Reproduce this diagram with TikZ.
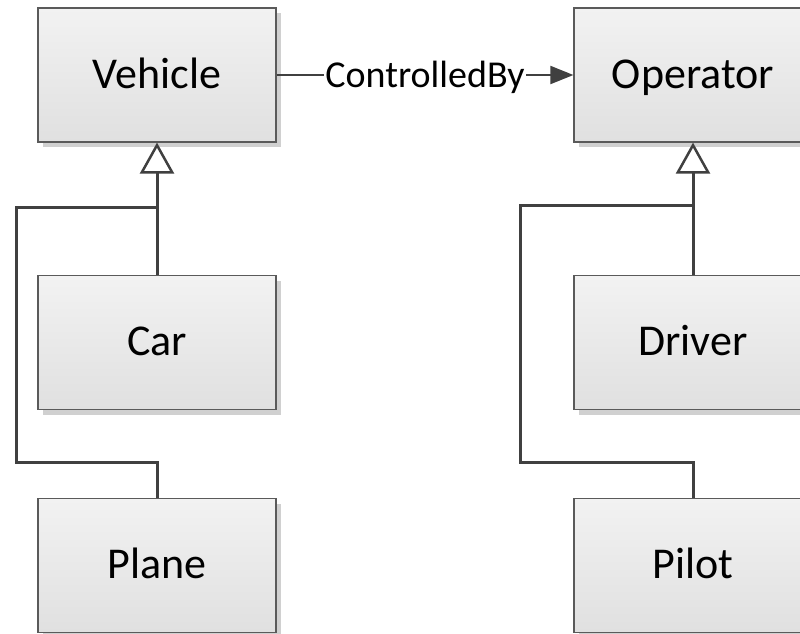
\documentclass[tikz,border=0pt]{standalone}
\usepackage{fontspec}
\setmainfont{Carlito}
\usetikzlibrary{arrows.meta,shadows}
\definecolor{edgegray}{HTML}{404040}
\definecolor{boxborder}{HTML}{5A5A5A}
\definecolor{boxtop}{HTML}{F2F2F2}
\definecolor{boxbottom}{HTML}{E0E0E0}
\definecolor{shadowgray}{HTML}{D0D0D0}
\tikzset{
  classbox/.style={rectangle, draw=boxborder, line width=1.2pt,
    top color=boxtop, bottom color=boxbottom,
    minimum width=238pt, minimum height=134pt, inner sep=0pt,
    text height=32pt, text depth=6pt,
    font=\fontsize{44}{52}\selectfont,
    drop shadow={shadow xshift=5pt, shadow yshift=-5pt, fill=shadowgray, opacity=1}},
  inherit/.style={draw=edgegray, line width=3pt, line join=miter},
  genarrow/.style={inherit, -{Triangle[open, length=31pt, width=34pt, line width=2.5pt]}},
  assoc/.style={draw=edgegray, line width=2pt, -{Triangle[length=23pt, width=18pt]}},
  assoclabel/.style={fill=white, inner sep=1pt, text height=30pt, text depth=6pt,
    font=\fontsize{38}{46}\selectfont}
}
\begin{document}
\begin{tikzpicture}[x=1pt, y=-1pt]
  \useasboundingbox (0,0) rectangle (800,633);
  \fill[white] (0,0) rectangle (800,633);

  % vehicle hierarchy
  \node[classbox] (vehicle) at (157,75) {Vehicle};
  \node[classbox] (car) at (157,342.5) {Car};
  \node[classbox] (plane) at (157,565.5) {Plane};

  % operator hierarchy
  \node[classbox] (operator) at (693,75) {Operator};
  \node[classbox] (driver) at (693,342.5) {Driver};
  \node[classbox] (pilot) at (693,565.5) {Pilot};

  % routing points of the generalization lines
  \coordinate (vjoin) at (157,207);
  \coordinate (vbend) at (16,462);
  \coordinate (ojoin) at (693,205);
  \coordinate (obend) at (520,462);

  % generalizations
  \draw[inherit] (plane.north) |- (vbend) |- (vjoin);
  \draw[genarrow] (car.north) -- (vehicle.south);
  \draw[inherit] (pilot.north) |- (obend) |- (ojoin);
  \draw[genarrow] (driver.north) -- (operator.south);

  % association
  \draw[assoc] (vehicle.east) -- node[assoclabel] {ControlledBy} (operator.west);
\end{tikzpicture}
\end{document}
